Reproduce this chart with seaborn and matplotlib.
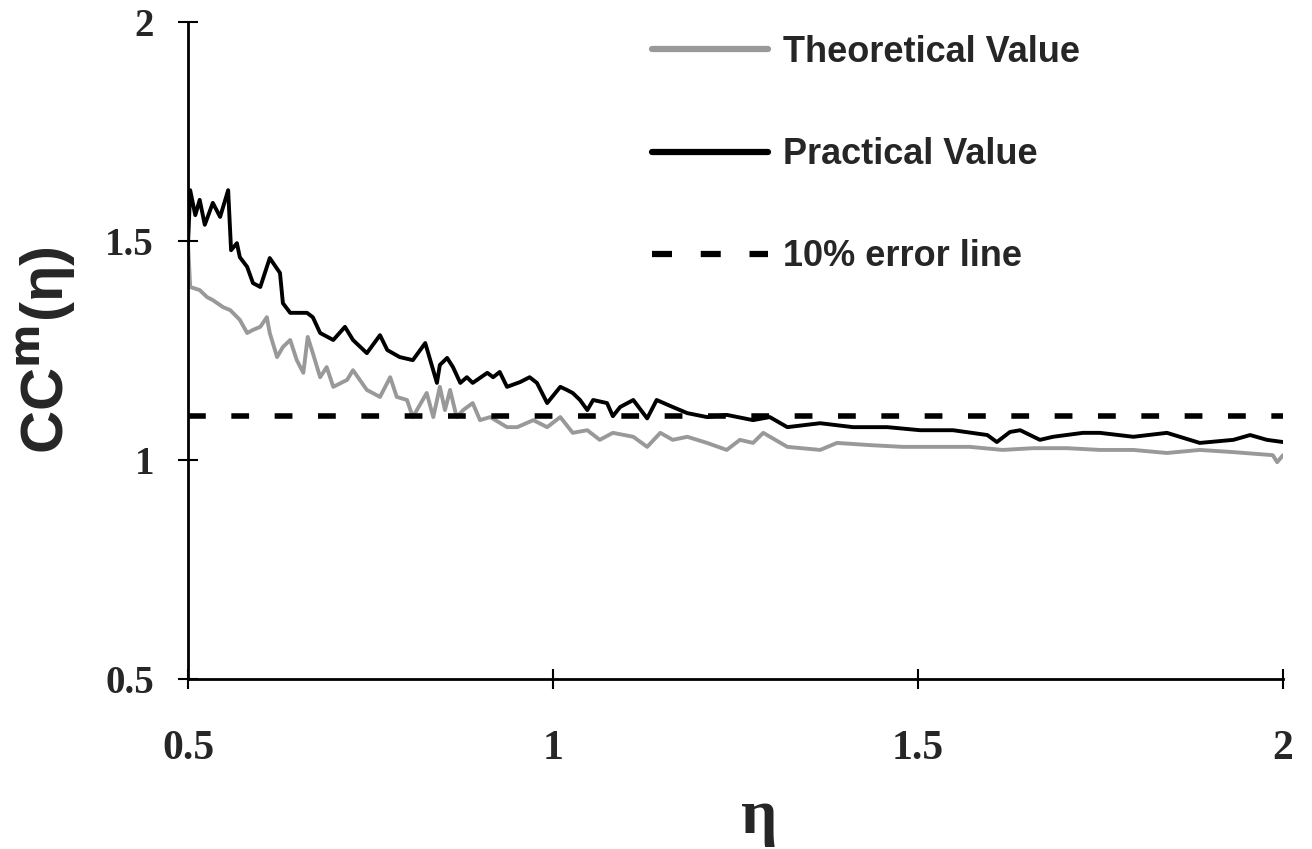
import matplotlib
matplotlib.use("Agg")
import matplotlib.pyplot as plt
import seaborn as sns
import numpy as np

# ---- data ----
practical_x = [0.500, 0.503, 0.510, 0.516, 0.523, 0.534, 0.544, 0.555, 0.559, 0.567,
               0.571, 0.581, 0.589, 0.599, 0.612, 0.626, 0.630, 0.640, 0.663, 0.671,
               0.681, 0.699, 0.715, 0.726, 0.745, 0.763, 0.773, 0.790, 0.808, 0.825,
               0.841, 0.845, 0.855, 0.863, 0.873, 0.882, 0.890, 0.910, 0.918, 0.927,
               0.937, 0.955, 0.968, 0.978, 0.992, 1.010, 1.019, 1.027, 1.037, 1.047,
               1.055, 1.074, 1.082, 1.092, 1.110, 1.129, 1.142, 1.164, 1.184, 1.211,
               1.238, 1.274, 1.297, 1.321, 1.366, 1.411, 1.458, 1.503, 1.548, 1.595,
               1.608, 1.626, 1.640, 1.667, 1.685, 1.726, 1.749, 1.795, 1.841, 1.886,
               1.932, 1.955, 1.978, 2.000]
practical_y = [1.491, 1.616, 1.559, 1.594, 1.537, 1.587, 1.555, 1.616, 1.479, 1.495,
               1.463, 1.441, 1.404, 1.395, 1.461, 1.427, 1.358, 1.336, 1.336, 1.326,
               1.290, 1.274, 1.304, 1.274, 1.244, 1.285, 1.251, 1.235, 1.228, 1.267,
               1.176, 1.217, 1.233, 1.212, 1.176, 1.189, 1.176, 1.199, 1.189, 1.201,
               1.167, 1.178, 1.189, 1.176, 1.130, 1.167, 1.160, 1.153, 1.137, 1.114,
               1.137, 1.130, 1.100, 1.121, 1.137, 1.095, 1.137, 1.121, 1.107, 1.098,
               1.103, 1.091, 1.098, 1.075, 1.084, 1.075, 1.075, 1.068, 1.068, 1.057,
               1.041, 1.064, 1.068, 1.046, 1.053, 1.062, 1.062, 1.053, 1.062, 1.039,
               1.046, 1.057, 1.046, 1.041]

theoretical_x = [0.500, 0.503, 0.516, 0.526, 0.534, 0.548, 0.558, 0.571, 0.581, 0.589,
                 0.599, 0.608, 0.612, 0.622, 0.630, 0.640, 0.649, 0.658, 0.664, 0.671,
                 0.681, 0.690, 0.699, 0.718, 0.726, 0.745, 0.763, 0.777, 0.786, 0.800,
                 0.808, 0.827, 0.836, 0.845, 0.852, 0.859, 0.868, 0.877, 0.890, 0.900,
                 0.914, 0.937, 0.951, 0.973, 0.992, 1.010, 1.027, 1.047, 1.064, 1.082,
                 1.110, 1.129, 1.147, 1.164, 1.184, 1.211, 1.238, 1.256, 1.274, 1.288,
                 1.321, 1.366, 1.389, 1.434, 1.479, 1.526, 1.571, 1.616, 1.658, 1.704,
                 1.749, 1.795, 1.841, 1.886, 1.932, 1.986, 1.992, 2.000]
theoretical_y = [1.495, 1.395, 1.388, 1.372, 1.365, 1.349, 1.342, 1.320, 1.290, 1.297,
                 1.304, 1.326, 1.290, 1.235, 1.258, 1.274, 1.228, 1.199, 1.281, 1.244,
                 1.189, 1.212, 1.167, 1.183, 1.205, 1.160, 1.144, 1.189, 1.144, 1.137,
                 1.098, 1.153, 1.098, 1.167, 1.114, 1.160, 1.098, 1.114, 1.130, 1.091,
                 1.098, 1.075, 1.075, 1.091, 1.075, 1.098, 1.062, 1.068, 1.046, 1.062,
                 1.053, 1.030, 1.062, 1.046, 1.053, 1.039, 1.023, 1.046, 1.039, 1.062,
                 1.030, 1.023, 1.039, 1.034, 1.030, 1.030, 1.030, 1.023, 1.027, 1.027,
                 1.023, 1.023, 1.016, 1.023, 1.018, 1.011, 0.995, 1.011]

error_x = [0.5, 2.0]
error_y = [1.1, 1.1]

series_labels = ["Theoretical Value", "Practical Value", "10% error line"]
x_ticks = [0.5, 1, 1.5, 2]
y_ticks = [0.5, 1, 1.5, 2]
tick_labels = ["0.5", "1", "1.5", "2"]

# ---- figure ----
sns.set_theme(style="white")
plt.rcParams['font.family'] = ['Liberation Sans', 'DejaVu Sans']

fig = plt.figure(figsize=(13.12, 8.49), dpi=100)
ax = fig.add_axes([188/1312, 1 - 679/849, (1283-188)/1312, (679-22)/849])

sns.lineplot(x=theoretical_x, y=theoretical_y, ax=ax, color="#999999", lw=2.8,
             label=series_labels[0], estimator=None, sort=False)
sns.lineplot(x=practical_x, y=practical_y, ax=ax, color="black", lw=2.8,
             label=series_labels[1], estimator=None, sort=False)
sns.lineplot(x=error_x, y=error_y, ax=ax, color="black", lw=4,
             label=series_labels[2], estimator=None, sort=False)
ax.lines[-1].set_dashes((3.2, 4.6))
ax.lines[-1].set_dash_capstyle('butt')

ax.set_xlim(0.5, 2)
ax.set_ylim(0.5, 2)
ax.set_xticks(x_ticks)
ax.set_yticks(y_ticks)
ax.set_xticklabels(tick_labels, fontfamily="Liberation Serif",
                   fontweight="bold", fontsize=30)
ax.set_yticklabels(tick_labels, fontfamily="Liberation Serif",
                   fontweight="bold", fontsize=28)
ax.tick_params(axis="both", direction="inout", length=15, width=1.5,
               color="black", bottom=True, left=True)
ax.tick_params(axis="x", pad=29)
ax.tick_params(axis="y", pad=17)

for s in ["top", "right"]:
    ax.spines[s].set_visible(False)
for s in ["left", "bottom"]:
    ax.spines[s].set_color("black")
    ax.spines[s].set_linewidth(2)

ax.set_xlabel("η", fontfamily="Liberation Serif", fontweight="bold", fontsize=46)
ax.xaxis.label.set_va("center")
ax.xaxis.set_label_coords((759 - 188) / 1095, (679 - 818) / 657)

ax.set_ylabel(r"CC$^{\mathbf{m}}$(η)", fontfamily=["Liberation Sans", "DejaVu Sans"],
              fontweight="bold", fontsize=43)
ax.yaxis.label.set_va("center")
ax.yaxis.set_label_coords((47 - 188) / 1095, 0.5)

leg = ax.legend(loc="upper left", bbox_to_anchor=((652-188)/1095, (679-35)/657),
                frameon=False, handlelength=3.2, handletextpad=0.42,
                labelspacing=1.86, borderpad=0, borderaxespad=0,
                prop={"family": "Liberation Sans", "weight": "bold", "size": 26})
for h in leg.get_lines():
    h.set_linewidth(4.5)

fig.savefig("out.png", dpi=100)
